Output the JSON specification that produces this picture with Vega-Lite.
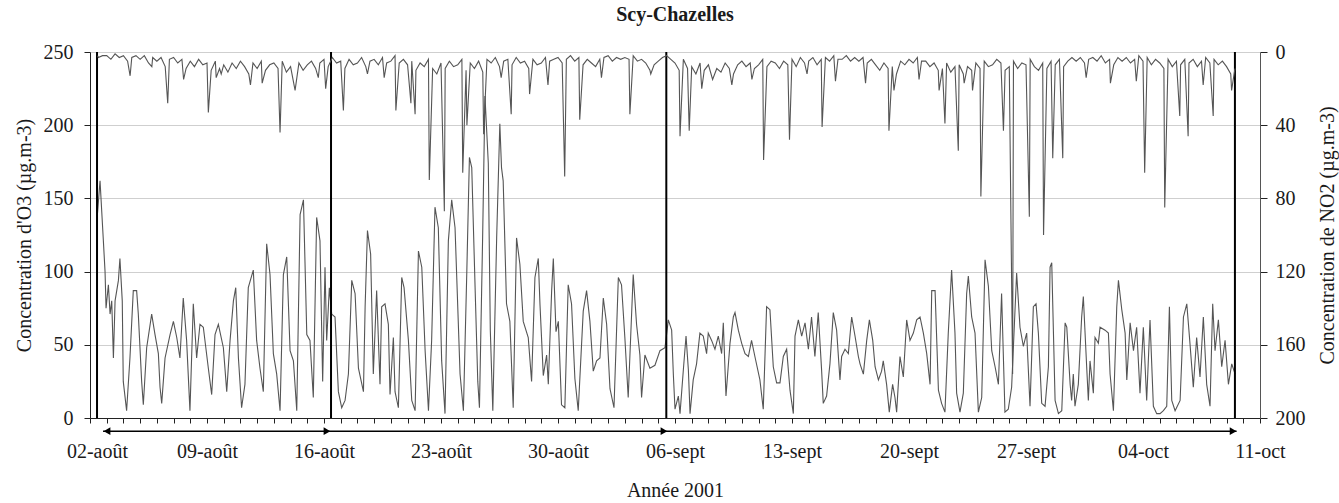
{
"$schema": "https://vega.github.io/schema/vega-lite/v6.json",
"width": 1170, "height": 366,
"autosize": {"type": "none"},
"padding": {"left": 90, "top": 52, "right": 79, "bottom": 85},
"background": "white",
"config": {"font": "Liberation Serif", "view": {"stroke": null},
  "axis": {"labelFont": "Liberation Serif", "titleFont": "Liberation Serif", "labelFontSize": 20, "titleFontSize": 20, "titleFontWeight": "normal", "labelColor": "#1a1a1a", "titleColor": "#1a1a1a", "domainColor": "#222", "tickColor": "#222"},
  "axisX": {"labelOverlap": false, "labelFlush": false}},
"title": {"text": "Scy-Chazelles", "font": "Liberation Serif", "fontSize": 20, "fontWeight": "bold", "anchor": "middle", "offset": 17, "color": "#1a1a1a"},
"datasets": {
"o3": [{"d":0.45,"v":140},{"d":0.6,"v":162},{"d":0.8,"v":121},{"d":0.9,"v":100},{"d":0.96,"v":75},{"d":1.1,"v":91},{"d":1.2,"v":71},{"d":1.3,"v":80},{"d":1.4,"v":41},{"d":1.5,"v":80},{"d":1.7,"v":94},{"d":1.79,"v":109},{"d":1.93,"v":80},{"d":1.99,"v":25},{"d":2.19,"v":5},{"d":2.39,"v":41},{"d":2.59,"v":87},{"d":2.79,"v":87},{"d":2.89,"v":71},{"d":3.09,"v":25},{"d":3.19,"v":9},{"d":3.39,"v":48},{"d":3.69,"v":71},{"d":3.89,"v":57},{"d":4.09,"v":44},{"d":4.19,"v":21},{"d":4.29,"v":10},{"d":4.49,"v":41},{"d":4.79,"v":57},{"d":4.99,"v":66},{"d":5.19,"v":55},{"d":5.38,"v":41},{"d":5.58,"v":82},{"d":5.78,"v":53},{"d":5.98,"v":5},{"d":6.18,"v":78},{"d":6.38,"v":41},{"d":6.58,"v":64},{"d":6.78,"v":62},{"d":7.08,"v":34},{"d":7.28,"v":16},{"d":7.48,"v":57},{"d":7.68,"v":64},{"d":7.98,"v":48},{"d":8.18,"v":18},{"d":8.38,"v":53},{"d":8.58,"v":80},{"d":8.72,"v":89},{"d":8.88,"v":41},{"d":9.07,"v":7},{"d":9.27,"v":23},{"d":9.47,"v":89},{"d":9.77,"v":101},{"d":9.97,"v":53},{"d":10.17,"v":34},{"d":10.37,"v":18},{"d":10.57,"v":119},{"d":10.77,"v":98},{"d":10.97,"v":44},{"d":11.17,"v":30},{"d":11.37,"v":5},{"d":11.57,"v":98},{"d":11.77,"v":110},{"d":11.97,"v":46},{"d":12.17,"v":39},{"d":12.37,"v":5},{"d":12.57,"v":139},{"d":12.77,"v":149},{"d":12.97,"v":57},{"d":13.16,"v":53},{"d":13.36,"v":14},{"d":13.56,"v":137},{"d":13.76,"v":121},{"d":13.92,"v":25},{"d":14.06,"v":103},{"d":14.16,"v":53},{"d":14.32,"v":89},{"d":14.46,"v":71},{"d":14.66,"v":69},{"d":14.86,"v":18},{"d":15.06,"v":7},{"d":15.26,"v":12},{"d":15.46,"v":30},{"d":15.66,"v":94},{"d":15.86,"v":85},{"d":16.06,"v":34},{"d":16.36,"v":18},{"d":16.46,"v":76},{"d":16.6,"v":128},{"d":16.79,"v":112},{"d":16.95,"v":30},{"d":17.15,"v":87},{"d":17.35,"v":23},{"d":17.45,"v":76},{"d":17.65,"v":78},{"d":17.85,"v":64},{"d":17.95,"v":16},{"d":18.15,"v":55},{"d":18.25,"v":18},{"d":18.45,"v":7},{"d":18.65,"v":96},{"d":18.79,"v":89},{"d":19.05,"v":53},{"d":19.25,"v":12},{"d":19.45,"v":5},{"d":19.65,"v":114},{"d":19.85,"v":103},{"d":20.05,"v":46},{"d":20.25,"v":5},{"d":20.44,"v":53},{"d":20.64,"v":144},{"d":20.84,"v":130},{"d":21.04,"v":39},{"d":21.24,"v":3},{"d":21.44,"v":121},{"d":21.64,"v":149},{"d":21.84,"v":130},{"d":22.14,"v":30},{"d":22.34,"v":5},{"d":22.54,"v":98},{"d":22.7,"v":178},{"d":22.84,"v":171},{"d":23.04,"v":89},{"d":23.2,"v":25},{"d":23.3,"v":7},{"d":23.49,"v":123},{"d":23.63,"v":220},{"d":23.83,"v":174},{"d":23.95,"v":60},{"d":24.1,"v":5},{"d":24.33,"v":123},{"d":24.52,"v":201},{"d":24.62,"v":171},{"d":24.72,"v":162},{"d":24.92,"v":78},{"d":25.12,"v":66},{"d":25.32,"v":7},{"d":25.52,"v":123},{"d":25.72,"v":105},{"d":25.92,"v":66},{"d":26.22,"v":55},{"d":26.42,"v":25},{"d":26.62,"v":96},{"d":26.82,"v":109},{"d":26.92,"v":78},{"d":27.12,"v":29},{"d":27.32,"v":43},{"d":27.42,"v":23},{"d":27.62,"v":87},{"d":27.72,"v":109},{"d":27.88,"v":59},{"d":28.02,"v":66},{"d":28.21,"v":9},{"d":28.41,"v":7},{"d":28.61,"v":91},{"d":28.81,"v":78},{"d":29.01,"v":27},{"d":29.21,"v":5},{"d":29.51,"v":73},{"d":29.71,"v":87},{"d":29.91,"v":66},{"d":30.11,"v":32},{"d":30.31,"v":39},{"d":30.51,"v":41},{"d":30.71,"v":82},{"d":30.91,"v":64},{"d":31.11,"v":20},{"d":31.35,"v":7},{"d":31.61,"v":96},{"d":31.8,"v":91},{"d":32.0,"v":55},{"d":32.2,"v":14},{"d":32.5,"v":98},{"d":32.7,"v":64},{"d":32.9,"v":43},{"d":33.0,"v":14},{"d":33.2,"v":43},{"d":33.5,"v":34},{"d":33.8,"v":36},{"d":34.1,"v":46},{"d":34.4,"v":48},{"d":34.6,"v":67},{"d":34.8,"v":60},{"d":34.9,"v":30},{"d":35.0,"v":6},{"d":35.2,"v":15},{"d":35.3,"v":3},{"d":35.5,"v":33},{"d":35.66,"v":56},{"d":35.8,"v":33},{"d":35.9,"v":3},{"d":36.09,"v":26},{"d":36.29,"v":37},{"d":36.49,"v":58},{"d":36.69,"v":56},{"d":36.89,"v":44},{"d":36.99,"v":58},{"d":37.19,"v":53},{"d":37.39,"v":47},{"d":37.59,"v":56},{"d":37.79,"v":44},{"d":37.89,"v":65},{"d":38.05,"v":15},{"d":38.29,"v":51},{"d":38.49,"v":69},{"d":38.59,"v":72},{"d":38.79,"v":60},{"d":38.99,"v":51},{"d":39.19,"v":44},{"d":39.39,"v":42},{"d":39.58,"v":53},{"d":39.78,"v":42},{"d":40.08,"v":26},{"d":40.28,"v":6},{"d":40.48,"v":76},{"d":40.68,"v":74},{"d":40.88,"v":35},{"d":41.08,"v":24},{"d":41.28,"v":24},{"d":41.48,"v":42},{"d":41.68,"v":47},{"d":41.88,"v":19},{"d":42.08,"v":3},{"d":42.18,"v":56},{"d":42.38,"v":67},{"d":42.58,"v":56},{"d":42.78,"v":65},{"d":42.98,"v":47},{"d":43.17,"v":69},{"d":43.37,"v":42},{"d":43.57,"v":72},{"d":43.77,"v":33},{"d":43.87,"v":10},{"d":44.07,"v":15},{"d":44.27,"v":37},{"d":44.47,"v":72},{"d":44.67,"v":60},{"d":44.87,"v":26},{"d":44.97,"v":42},{"d":45.17,"v":47},{"d":45.37,"v":44},{"d":45.57,"v":69},{"d":45.77,"v":56},{"d":45.97,"v":42},{"d":46.07,"v":37},{"d":46.27,"v":30},{"d":46.47,"v":53},{"d":46.63,"v":67},{"d":46.83,"v":53},{"d":46.97,"v":35},{"d":47.17,"v":26},{"d":47.36,"v":32},{"d":47.46,"v":39},{"d":47.66,"v":23},{"d":47.82,"v":4},{"d":48.02,"v":23},{"d":48.16,"v":14},{"d":48.26,"v":4},{"d":48.46,"v":42},{"d":48.66,"v":28},{"d":48.86,"v":67},{"d":49.06,"v":53},{"d":49.26,"v":58},{"d":49.46,"v":67},{"d":49.66,"v":69},{"d":49.86,"v":58},{"d":50.06,"v":44},{"d":50.26,"v":23},{"d":50.36,"v":87},{"d":50.56,"v":87},{"d":50.76,"v":19},{"d":50.95,"v":10},{"d":51.15,"v":4},{"d":51.35,"v":58},{"d":51.55,"v":101},{"d":51.75,"v":58},{"d":51.85,"v":17},{"d":52.05,"v":4},{"d":52.25,"v":17},{"d":52.45,"v":85},{"d":52.55,"v":97},{"d":52.75,"v":69},{"d":52.95,"v":58},{"d":53.15,"v":4},{"d":53.35,"v":14},{"d":53.55,"v":108},{"d":53.75,"v":90},{"d":53.95,"v":46},{"d":54.15,"v":35},{"d":54.35,"v":23},{"d":54.54,"v":85},{"d":54.74,"v":4},{"d":54.94,"v":6},{"d":55.14,"v":21},{"d":55.44,"v":99},{"d":55.64,"v":62},{"d":55.84,"v":49},{"d":56.04,"v":58},{"d":56.24,"v":8},{"d":56.44,"v":76},{"d":56.6,"v":78},{"d":56.74,"v":58},{"d":56.94,"v":10},{"d":57.14,"v":8},{"d":57.34,"v":35},{"d":57.44,"v":103},{"d":57.54,"v":106},{"d":57.74,"v":12},{"d":57.94,"v":3},{"d":58.14,"v":5},{"d":58.34,"v":65},{"d":58.44,"v":62},{"d":58.64,"v":23},{"d":58.73,"v":12},{"d":58.83,"v":30},{"d":58.93,"v":8},{"d":59.13,"v":23},{"d":59.33,"v":69},{"d":59.43,"v":83},{"d":59.63,"v":35},{"d":59.73,"v":12},{"d":59.83,"v":39},{"d":60.03,"v":17},{"d":60.13,"v":55},{"d":60.33,"v":51},{"d":60.43,"v":62},{"d":60.73,"v":60},{"d":60.93,"v":58},{"d":61.03,"v":30},{"d":61.23,"v":5},{"d":61.43,"v":76},{"d":61.53,"v":94},{"d":61.73,"v":74},{"d":61.93,"v":58},{"d":62.03,"v":26},{"d":62.23,"v":65},{"d":62.43,"v":46},{"d":62.62,"v":62},{"d":62.82,"v":17},{"d":63.02,"v":62},{"d":63.22,"v":12},{"d":63.42,"v":67},{"d":63.62,"v":8},{"d":63.82,"v":3},{"d":64.02,"v":3},{"d":64.22,"v":5},{"d":64.42,"v":8},{"d":64.58,"v":76},{"d":64.72,"v":12},{"d":64.92,"v":5},{"d":65.22,"v":12},{"d":65.42,"v":69},{"d":65.62,"v":78},{"d":65.81,"v":51},{"d":66.01,"v":21},{"d":66.21,"v":55},{"d":66.41,"v":28},{"d":66.61,"v":69},{"d":66.81,"v":23},{"d":67.01,"v":8},{"d":67.17,"v":78},{"d":67.31,"v":46},{"d":67.51,"v":67},{"d":67.71,"v":35},{"d":67.91,"v":53},{"d":68.11,"v":23},{"d":68.31,"v":37},{"d":68.51,"v":30}],
"no2": [{"d":0.45,"v":2},{"d":0.5,"v":3},{"d":0.75,"v":2},{"d":1.0,"v":2},{"d":1.25,"v":4},{"d":1.5,"v":1},{"d":1.75,"v":3},{"d":2.0,"v":2},{"d":2.25,"v":5},{"d":2.4,"v":13},{"d":2.5,"v":3},{"d":2.75,"v":2},{"d":3.0,"v":4},{"d":3.25,"v":2},{"d":3.5,"v":6},{"d":3.7,"v":8},{"d":3.75,"v":3},{"d":4.0,"v":5},{"d":4.25,"v":3},{"d":4.5,"v":8},{"d":4.65,"v":28},{"d":4.75,"v":4},{"d":5.0,"v":3},{"d":5.25,"v":6},{"d":5.5,"v":4},{"d":5.6,"v":15},{"d":5.75,"v":9},{"d":6.0,"v":5},{"d":6.25,"v":8},{"d":6.5,"v":4},{"d":6.75,"v":7},{"d":7.0,"v":6},{"d":7.08,"v":33},{"d":7.25,"v":10},{"d":7.5,"v":5},{"d":7.55,"v":14},{"d":7.75,"v":9},{"d":7.85,"v":12},{"d":8.0,"v":7},{"d":8.25,"v":11},{"d":8.5,"v":6},{"d":8.75,"v":9},{"d":9.0,"v":5},{"d":9.25,"v":8},{"d":9.5,"v":12},{"d":9.6,"v":18},{"d":9.75,"v":6},{"d":10.0,"v":9},{"d":10.25,"v":5},{"d":10.3,"v":17},{"d":10.5,"v":10},{"d":10.75,"v":7},{"d":11.0,"v":6},{"d":11.25,"v":9},{"d":11.37,"v":44},{"d":11.5,"v":5},{"d":11.75,"v":11},{"d":12.0,"v":8},{"d":12.27,"v":21},{"d":12.5,"v":6},{"d":12.75,"v":10},{"d":13.0,"v":7},{"d":13.25,"v":5},{"d":13.5,"v":9},{"d":13.66,"v":14},{"d":13.75,"v":6},{"d":14.0,"v":4},{"d":14.1,"v":20},{"d":14.25,"v":8},{"d":14.5,"v":3},{"d":14.75,"v":6},{"d":15.0,"v":5},{"d":15.16,"v":32},{"d":15.25,"v":9},{"d":15.5,"v":4},{"d":15.75,"v":7},{"d":16.0,"v":6},{"d":16.25,"v":3},{"d":16.5,"v":8},{"d":16.6,"v":12},{"d":16.75,"v":5},{"d":17.0,"v":4},{"d":17.25,"v":7},{"d":17.5,"v":3},{"d":17.6,"v":14},{"d":17.75,"v":6},{"d":18.0,"v":5},{"d":18.25,"v":2},{"d":18.3,"v":32},{"d":18.5,"v":6},{"d":18.75,"v":4},{"d":19.0,"v":7},{"d":19.2,"v":28},{"d":19.25,"v":5},{"d":19.45,"v":34},{"d":19.5,"v":10},{"d":19.75,"v":6},{"d":20.0,"v":8},{"d":20.25,"v":4},{"d":20.3,"v":70},{"d":20.5,"v":9},{"d":20.75,"v":12},{"d":21.0,"v":6},{"d":21.2,"v":87},{"d":21.25,"v":9},{"d":21.5,"v":5},{"d":21.75,"v":8},{"d":22.0,"v":7},{"d":22.25,"v":4},{"d":22.3,"v":66},{"d":22.5,"v":10},{"d":22.55,"v":40},{"d":22.75,"v":6},{"d":23.0,"v":9},{"d":23.25,"v":5},{"d":23.5,"v":11},{"d":23.55,"v":45},{"d":23.75,"v":4},{"d":24.0,"v":6},{"d":24.25,"v":3},{"d":24.5,"v":8},{"d":24.6,"v":14},{"d":24.75,"v":5},{"d":25.0,"v":4},{"d":25.2,"v":34},{"d":25.25,"v":7},{"d":25.5,"v":3},{"d":25.75,"v":6},{"d":26.0,"v":5},{"d":26.25,"v":9},{"d":26.3,"v":23},{"d":26.5,"v":4},{"d":26.75,"v":7},{"d":27.0,"v":6},{"d":27.25,"v":3},{"d":27.4,"v":18},{"d":27.5,"v":5},{"d":27.75,"v":4},{"d":28.0,"v":3},{"d":28.25,"v":6},{"d":28.4,"v":68},{"d":28.5,"v":4},{"d":28.75,"v":2},{"d":29.0,"v":5},{"d":29.25,"v":3},{"d":29.3,"v":37},{"d":29.5,"v":7},{"d":29.75,"v":4},{"d":30.0,"v":6},{"d":30.25,"v":8},{"d":30.5,"v":4},{"d":30.6,"v":14},{"d":30.75,"v":3},{"d":31.0,"v":2},{"d":31.25,"v":5},{"d":31.5,"v":3},{"d":31.75,"v":4},{"d":32.0,"v":3},{"d":32.25,"v":4},{"d":32.3,"v":34},{"d":32.5,"v":2},{"d":32.75,"v":5},{"d":33.0,"v":4},{"d":33.25,"v":6},{"d":33.5,"v":10},{"d":33.55,"v":12},{"d":33.75,"v":7},{"d":34.0,"v":5},{"d":34.25,"v":3},{"d":34.5,"v":2},{"d":34.75,"v":4},{"d":35.0,"v":6},{"d":35.25,"v":10},{"d":35.3,"v":46},{"d":35.5,"v":4},{"d":35.75,"v":9},{"d":35.85,"v":43},{"d":36.0,"v":8},{"d":36.25,"v":12},{"d":36.5,"v":6},{"d":36.6,"v":20},{"d":36.75,"v":10},{"d":37.0,"v":7},{"d":37.25,"v":15},{"d":37.5,"v":9},{"d":37.75,"v":11},{"d":38.0,"v":6},{"d":38.25,"v":9},{"d":38.4,"v":18},{"d":38.5,"v":12},{"d":38.75,"v":7},{"d":39.0,"v":5},{"d":39.25,"v":8},{"d":39.5,"v":6},{"d":39.6,"v":15},{"d":39.75,"v":9},{"d":40.0,"v":7},{"d":40.25,"v":4},{"d":40.3,"v":59},{"d":40.5,"v":8},{"d":40.75,"v":5},{"d":41.0,"v":6},{"d":41.25,"v":9},{"d":41.5,"v":5},{"d":41.75,"v":7},{"d":41.85,"v":48},{"d":42.0,"v":4},{"d":42.25,"v":8},{"d":42.5,"v":3},{"d":42.75,"v":6},{"d":42.9,"v":12},{"d":43.0,"v":5},{"d":43.25,"v":3},{"d":43.5,"v":7},{"d":43.75,"v":4},{"d":43.8,"v":41},{"d":44.0,"v":3},{"d":44.25,"v":5},{"d":44.5,"v":2},{"d":44.6,"v":16},{"d":44.75,"v":4},{"d":45.0,"v":4},{"d":45.25,"v":2},{"d":45.5,"v":5},{"d":45.75,"v":3},{"d":46.0,"v":5},{"d":46.25,"v":3},{"d":46.4,"v":17},{"d":46.5,"v":6},{"d":46.75,"v":4},{"d":47.0,"v":7},{"d":47.25,"v":10},{"d":47.5,"v":6},{"d":47.75,"v":9},{"d":47.8,"v":43},{"d":48.0,"v":8},{"d":48.1,"v":21},{"d":48.25,"v":12},{"d":48.5,"v":5},{"d":48.75,"v":7},{"d":49.0,"v":4},{"d":49.25,"v":6},{"d":49.5,"v":3},{"d":49.6,"v":15},{"d":49.75,"v":5},{"d":50.0,"v":5},{"d":50.25,"v":8},{"d":50.5,"v":6},{"d":50.75,"v":10},{"d":50.8,"v":21},{"d":51.0,"v":9},{"d":51.15,"v":39},{"d":51.25,"v":6},{"d":51.5,"v":11},{"d":51.75,"v":8},{"d":51.95,"v":54},{"d":52.0,"v":7},{"d":52.25,"v":12},{"d":52.3,"v":17},{"d":52.5,"v":8},{"d":52.75,"v":10},{"d":52.8,"v":21},{"d":53.0,"v":6},{"d":53.25,"v":9},{"d":53.3,"v":79},{"d":53.5,"v":5},{"d":53.75,"v":8},{"d":54.0,"v":7},{"d":54.25,"v":4},{"d":54.5,"v":6},{"d":54.65,"v":43},{"d":54.75,"v":10},{"d":55.0,"v":8},{"d":55.2,"v":176},{"d":55.25,"v":5},{"d":55.5,"v":9},{"d":55.75,"v":6},{"d":56.0,"v":7},{"d":56.2,"v":90},{"d":56.25,"v":4},{"d":56.5,"v":8},{"d":56.75,"v":10},{"d":57.0,"v":6},{"d":57.05,"v":100},{"d":57.25,"v":9},{"d":57.5,"v":5},{"d":57.6,"v":58},{"d":57.75,"v":7},{"d":58.0,"v":4},{"d":58.2,"v":58},{"d":58.25,"v":8},{"d":58.5,"v":5},{"d":58.75,"v":3},{"d":59.0,"v":5},{"d":59.25,"v":3},{"d":59.5,"v":6},{"d":59.6,"v":14},{"d":59.75,"v":4},{"d":60.0,"v":3},{"d":60.25,"v":5},{"d":60.5,"v":2},{"d":60.75,"v":6},{"d":61.0,"v":4},{"d":61.05,"v":17},{"d":61.25,"v":7},{"d":61.5,"v":3},{"d":61.75,"v":5},{"d":62.0,"v":3},{"d":62.25,"v":6},{"d":62.5,"v":4},{"d":62.6,"v":16},{"d":62.75,"v":2},{"d":63.0,"v":5},{"d":63.1,"v":66},{"d":63.25,"v":3},{"d":63.5,"v":7},{"d":63.75,"v":4},{"d":64.0,"v":6},{"d":64.25,"v":9},{"d":64.3,"v":85},{"d":64.5,"v":4},{"d":64.75,"v":8},{"d":65.0,"v":5},{"d":65.2,"v":35},{"d":65.25,"v":7},{"d":65.5,"v":4},{"d":65.7,"v":46},{"d":65.75,"v":6},{"d":66.0,"v":4},{"d":66.25,"v":8},{"d":66.5,"v":5},{"d":66.6,"v":18},{"d":66.75,"v":3},{"d":67.0,"v":6},{"d":67.2,"v":35},{"d":67.25,"v":4},{"d":67.5,"v":7},{"d":67.75,"v":5},{"d":68.0,"v":8},{"d":68.25,"v":12},{"d":68.3,"v":21},{"d":68.5,"v":9}],
"bars": [{"d":0.42},{"d":14.42},{"d":34.48},{"d":68.5}],
"arrow": [{"d":0.78,"d2":68.6}],
"heads": [{"d":1.02,"dir":"left"},{"d":14.18,"dir":"right"},{"d":34.34,"dir":"right"},{"d":68.39,"dir":"right"}]
},
"encoding": {
  "x": {"field": "d", "type": "quantitative", "scale": {"domain": [0, 70], "nice": false, "zero": false},
    "axis": {"values": [0,1,2,3,4,5,6,7,8,9,10,11,12,13,14,15,16,17,18,19,20,21,22,23,24,25,26,27,28,29,30,31,32,33,34,35,36,37,38,39,40,41,42,43,44,45,46,47,48,49,50,51,52,53,54,55,56,57,58,59,60,61,62,63,64,65,66,67,68,69,70],
      "tickCount": 200,
      "labelExpr": "datum.value % 7 == 0 ? ['02-août','09-août','16-août','23-août','30-août','06-sept','13-sept','20-sept','27-sept','04-oct','11-oct'][datum.value / 7] : ''",
      "labelOffset": {"condition": {"test": "datum.value == 0", "value": 7}, "value": 0},
      "labelOverlap": false, "labelFlush": false, "tickSize": 5, "labelPadding": 18, "grid": false,
      "title": "Année 2001", "titlePadding": 19}}
},
"layer": [
 {"layer": [
  {"data": {"name": "o3"}, "mark": {"type": "line", "color": "#555", "strokeWidth": 1.1},
   "encoding": {
    "y": {"field": "v", "type": "quantitative", "scale": {"domain": [0, 250], "nice": false},
      "axis": {"values": [0,50,100,150,200,250], "grid": true, "gridColor": "#cfcfcf", "tickSize": 6, "labelPadding": 11,
        "title": "Concentration d'O3 (µg.m-3)", "titlePadding": 9}}
   }},
  {"data": {"name": "bars"}, "mark": {"type": "rule", "color": "#000", "strokeWidth": 2},
   "encoding": {}},
  {"data": {"name": "arrow"}, "mark": {"type": "rule", "color": "#000", "strokeWidth": 1.5},
   "encoding": {"x2": {"field": "d2"}, "y": {"datum": -9, "type": "quantitative"}}},
  {"data": {"name": "heads"}, "mark": {"type": "point", "filled": true, "color": "#000", "size": 60, "opacity": 1},
   "encoding": {"y": {"datum": -9, "type": "quantitative"},
    "shape": {"field": "dir", "type": "nominal", "scale": {"domain": ["left", "right"], "range": ["triangle-left", "triangle-right"]}, "legend": null}}}
 ]},
 {"data": {"name": "no2"}, "mark": {"type": "line", "color": "#555", "strokeWidth": 1.1},
  "encoding": {
   "y": {"field": "v", "type": "quantitative", "scale": {"domain": [0, 200], "reverse": true, "nice": false},
     "axis": {"orient": "right", "values": [0,40,80,120,160,200], "grid": false, "tickSize": 7, "labelPadding": 8, "domainColor": "#555",
       "title": "Concentration de NO2 (µg.m-3)", "titleAngle": 270, "titleBaseline": "top", "titlePadding": 12}}
  }}
],
"resolve": {"scale": {"y": "independent"}}
}
